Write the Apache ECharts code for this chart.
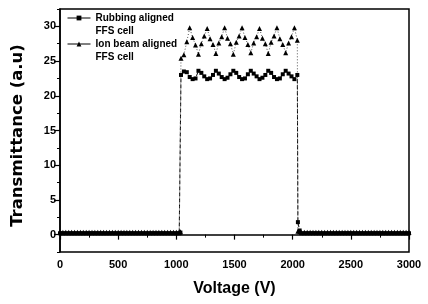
<!DOCTYPE html>
<html>
<head>
<meta charset="utf-8">
<script src="https://cdn.jsdelivr.net/npm/echarts@6/dist/echarts.min.js"></script>
<style>
  html, body { margin: 0; padding: 0; background: #fff; }
  #chart { width: 428px; height: 304px; }
</style>
</head>
<body>
<div id="chart"></div>
<script>
// voltage samples (V): off state, on state plateau, off state again
var voltageOffLeft = [0, 25, 50, 75, 100, 125, 150, 175, 200, 225, 250, 275, 300, 325, 350, 375, 400, 425, 450, 475,
  500, 525, 550, 575, 600, 625, 650, 675, 700, 725, 750, 775, 800, 825, 850, 875, 900, 925, 950, 975, 1000, 1025, 1035];
var voltageOn = [1040, 1065, 1090, 1115, 1140, 1165, 1190, 1215, 1240, 1265, 1290, 1315, 1340, 1365, 1390, 1415, 1440, 1465,
  1490, 1515, 1540, 1565, 1590, 1615, 1640, 1665, 1690, 1715, 1740, 1765, 1790, 1815, 1840, 1865, 1890, 1915,
  1940, 1965, 1990, 2015, 2040];
var voltageOffRight = [2045, 2060, 2075, 2100, 2125, 2150, 2175, 2200, 2225, 2250, 2275, 2300, 2325, 2350, 2375, 2400,
  2425, 2450, 2475, 2500, 2525, 2550, 2575, 2600, 2625, 2650, 2675, 2700, 2725, 2750, 2775, 2800, 2825, 2850,
  2875, 2900, 2925, 2950, 2975, 3000];

// Rubbing aligned FFS cell
var rubbingOffLeft = [0.2, 0.2, 0.2, 0.2, 0.2, 0.2, 0.2, 0.2, 0.2, 0.2, 0.2, 0.2, 0.2, 0.2, 0.2, 0.2, 0.2, 0.2, 0.2, 0.2,
  0.2, 0.2, 0.2, 0.2, 0.2, 0.2, 0.2, 0.2, 0.2, 0.2, 0.2, 0.2, 0.2, 0.2, 0.2, 0.2, 0.2, 0.2, 0.2, 0.2, 0.2, 0.2, 0.3];
var rubbingOn = [23.0, 23.5, 23.4, 22.7, 22.4, 22.5, 23.6, 23.3, 22.8, 22.4, 22.5, 23.0, 23.6, 23.2, 22.7, 22.4, 22.6, 23.1,
  23.6, 23.3, 22.7, 22.4, 22.5, 23.1, 23.6, 23.2, 22.8, 22.4, 22.6, 23.0, 23.6, 23.3, 22.7, 22.4, 22.5, 23.1,
  23.6, 23.2, 22.8, 22.4, 23.0];
var rubbingOffRight = [1.8, 0.6, 0.2, 0.2, 0.2, 0.2, 0.2, 0.2, 0.2, 0.2, 0.2, 0.2, 0.2, 0.2, 0.2, 0.2,
  0.2, 0.2, 0.2, 0.2, 0.2, 0.2, 0.2, 0.2, 0.2, 0.2, 0.2, 0.2, 0.2, 0.2, 0.2, 0.2, 0.2, 0.2,
  0.2, 0.2, 0.2, 0.2, 0.2, 0.2];

// Ion beam aligned FFS cell
var ionOffLeft = [0.35, 0.35, 0.35, 0.35, 0.35, 0.35, 0.35, 0.35, 0.35, 0.35, 0.35, 0.35, 0.35, 0.35, 0.35, 0.35, 0.35, 0.35, 0.35, 0.35,
  0.35, 0.35, 0.35, 0.35, 0.35, 0.35, 0.35, 0.35, 0.35, 0.35, 0.35, 0.35, 0.35, 0.35, 0.35, 0.35, 0.35, 0.35, 0.35, 0.35, 0.35, 0.35, 0.4];
var ionOn = [25.4, 25.9, 27.8, 29.8, 28.4, 27.3, 26.0, 27.5, 28.6, 29.7, 28.2, 27.4, 26.1, 27.6, 28.5, 29.8, 28.3, 27.5,
  26.0, 27.7, 28.6, 29.8, 28.4, 27.4, 26.2, 27.6, 28.5, 29.7, 28.3, 27.5, 26.1, 27.7, 28.6, 29.8, 28.2, 27.4,
  26.2, 27.6, 28.5, 29.8, 28.0];
var ionOffRight = [0.5, 0.4, 0.35, 0.35, 0.35, 0.35, 0.35, 0.35, 0.35, 0.35, 0.35, 0.35, 0.35, 0.35, 0.35, 0.35,
  0.35, 0.35, 0.35, 0.35, 0.35, 0.35, 0.35, 0.35, 0.35, 0.35, 0.35, 0.35, 0.35, 0.35, 0.35, 0.35, 0.35, 0.35,
  0.35, 0.35, 0.35, 0.35, 0.35, 0.35];

var yMajorTicks = [0, 5, 10, 15, 20, 25, 30];
var yMinorTicks = [-2.5, 2.5, 7.5, 12.5, 17.5, 22.5, 27.5, 32.5];

var voltage = voltageOffLeft.concat(voltageOn, voltageOffRight);
function pairs(ys) {
  return voltage.map(function (v, i) { return [v, ys[i]]; });
}

var chart = echarts.init(document.getElementById('chart'));
var font = '"Liberation Sans", Arial, sans-serif';

chart.setOption({
  backgroundColor: '#fff',
  animation: false,
  grid: {
    left: 60, right: 19, top: 9, bottom: 52,
    show: true, borderColor: '#000', borderWidth: 1.5
  },
  legend: {
    orient: 'vertical',
    left: 62, top: -6.5,
    itemWidth: 23, itemHeight: 6,
    itemGap: -13,
    lineStyle: { type: 'solid', width: 1, color: '#000' },
    textStyle: {
      fontFamily: font, fontWeight: 'bold', fontSize: 10, color: '#000',
      lineHeight: 13
    },
    // empty first line keeps the icon level with the first text line
    formatter: function (name) { return '\n' + name.replace(' FFS', '\nFFS'); },
    data: ['Rubbing aligned FFS cell', 'Ion beam aligned FFS cell']
  },
  xAxis: {
    type: 'value',
    min: 0, max: 3000, interval: 500,
    name: 'Voltage (V)',
    nameLocation: 'middle',
    nameGap: 29,
    nameTextStyle: { fontFamily: font, fontWeight: 'bold', fontSize: 16, color: '#000' },
    axisLine: { lineStyle: { color: '#000', width: 1.5 } },
    axisTick: { inside: false, length: 5, lineStyle: { color: '#000', width: 1.2 } },
    minorTick: { show: true, splitNumber: 2, length: 3, lineStyle: { color: '#000', width: 1 } },
    axisLabel: {
      fontFamily: font, fontWeight: 'bold', fontSize: 11, color: '#000', margin: 7,
      formatter: function (v) { return String(v); }
    },
    splitLine: { show: false }
  },
  yAxis: [{
    type: 'value',
    min: -2.5, max: 32.5,
    name: 'Transmittance (a.u)',
    nameLocation: 'middle',
    nameGap: 34,
    nameTextStyle: {
      fontFamily: '"DejaVu Sans", sans-serif', fontWeight: 'bold', fontSize: 16.5, color: '#000',
      padding: [0, 10, 0, 0]
    },
    axisLine: { lineStyle: { color: '#000', width: 1.5 } },
    axisTick: { length: 6, customValues: yMajorTicks, lineStyle: { color: '#000', width: 1.2 } },
    axisLabel: { customValues: yMajorTicks, fontFamily: font, fontWeight: 'bold', fontSize: 11, color: '#000', margin: 4 },
    splitLine: { show: false }
  }, {
    type: 'value',
    min: -2.5, max: 32.5,
    position: 'left',
    axisLine: { show: false },
    axisTick: { length: 3, customValues: yMinorTicks, lineStyle: { color: '#000', width: 1 } },
    axisLabel: { show: false },
    splitLine: { show: false }
  }],
  series: [{
    name: 'Rubbing aligned FFS cell',
    type: 'line',
    data: pairs(rubbingOffLeft.concat(rubbingOn, rubbingOffRight)),
    symbol: 'rect',
    symbolSize: 4,
    showAllSymbol: true,
    itemStyle: { color: '#000' },
    lineStyle: { color: '#000', width: 1, type: [4, 2] }
  }, {
    name: 'Ion beam aligned FFS cell',
    type: 'line',
    data: pairs(ionOffLeft.concat(ionOn, ionOffRight)),
    symbol: 'triangle',
    symbolSize: 5,
    showAllSymbol: true,
    itemStyle: { color: '#000' },
    lineStyle: { color: '#555', width: 1, type: [1, 2] }
  }]
});
</script>
</body>
</html>
